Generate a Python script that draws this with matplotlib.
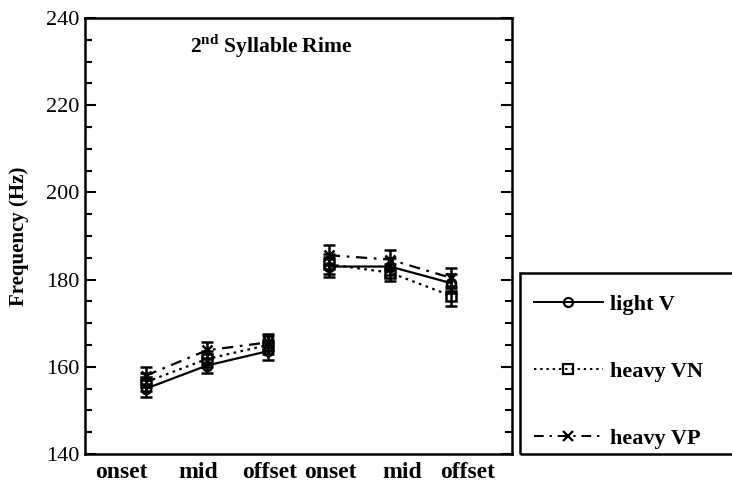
import matplotlib
matplotlib.use("Agg")
import matplotlib.pyplot as plt
from matplotlib.lines import Line2D
from matplotlib.patches import Rectangle
from matplotlib.ticker import MultipleLocator

plt.rcParams["font.family"] = ["Liberation Serif", "DejaVu Serif"]
plt.rcParams["mathtext.fontset"] = "custom"
plt.rcParams["mathtext.rm"] = "Liberation Serif"
plt.rcParams["mathtext.bf"] = "Liberation Serif:bold"

positions = [1, 2, 3, 4, 5, 6]
tick_labels = ["onset", "mid", "offset", "onset", "mid", "offset"]
label_pos = [0.6, 1.85, 3.03, 4.02, 5.2, 6.28]

series_names = ["light V", "heavy VN", "heavy VP"]
light_v = [155.0, 160.3, 163.6, 183.0, 183.0, 179.2]
heavy_vn = [156.5, 161.8, 165.0, 183.5, 181.6, 176.3]
heavy_vp = [158.0, 163.8, 165.6, 185.6, 184.6, 180.4]
light_v_err = [2.0, 1.8, 2.0, 2.3, 2.0, 2.2]
heavy_vn_err = [2.0, 1.8, 2.0, 2.3, 2.0, 2.3]
heavy_vp_err = [2.0, 2.0, 2.0, 2.3, 2.3, 2.3]

styles = [
    dict(ls="-", marker="o"),
    dict(ls=(0, (1.2, 2.0)), marker="s"),
    dict(ls=(0, (5, 3, 1.2, 3)), marker="x"),
]

fig = plt.figure(figsize=(7.32, 4.83), dpi=100)
ax = fig.add_axes([0.1161, 0.0600, 0.5834, 0.9027])

for vals, errs, st in zip([light_v, heavy_vn, heavy_vp],
                          [light_v_err, heavy_vn_err, heavy_vp_err], styles):
    for g in (slice(0, 3), slice(3, 6)):
        ax.errorbar(positions[g], vals[g], yerr=errs[g], color="black",
                    linestyle=st["ls"], marker=st["marker"], markersize=6.5,
                    mfc="none", mec="black", mew=1.8, lw=1.6,
                    elinewidth=1.8, capsize=4, capthick=1.8)

ax.set_xlim(0, 7)
ax.set_ylim(140, 240)
ax.yaxis.set_major_locator(MultipleLocator(20))
ax.yaxis.set_minor_locator(MultipleLocator(5))
ax.tick_params(axis="y", which="both", direction="in", left=True, right=True,
               labelsize=16, width=1.5, pad=4)
ax.tick_params(axis="y", which="major", length=8)
ax.tick_params(axis="y", which="minor", length=5)
ax.set_xticks(label_pos, tick_labels)
ax.tick_params(axis="x", length=0, labelsize=17, pad=6)
for lab in ax.get_xticklabels():
    lab.set_fontweight("bold")
for sp in ax.spines.values():
    sp.set_linewidth(1.8)

ax.set_ylabel("Frequency (Hz)", fontsize=15, fontweight="bold", labelpad=12)
ax.text(0.435, 0.935, r"2$^{\mathbf{nd}}$ Syllable Rime", transform=ax.transAxes,
        ha="center", va="center", fontsize=15.5, fontweight="bold")

# legend box runs off the right edge of the figure
fig.patches.append(Rectangle((520 / 732, 1 - 454 / 483), 0.4, (454 - 273) / 483,
                             transform=fig.transFigure, fill=False,
                             edgecolor="black", lw=1.8))
handles = [Line2D([], [], color="black", linestyle=st["ls"], marker=st["marker"],
                  markersize=6.5, mfc="none", mew=1.6, lw=1.4) for st in styles]
leg = fig.legend(handles, series_names, loc="upper left",
                 bbox_to_anchor=(514 / 732, 1 - 274 / 483), frameon=False,
                 handlelength=3.1, labelspacing=2.1, handletextpad=0.3,
                 prop={"size": 16, "weight": "bold"})

fig.savefig("out.png", dpi=100)
